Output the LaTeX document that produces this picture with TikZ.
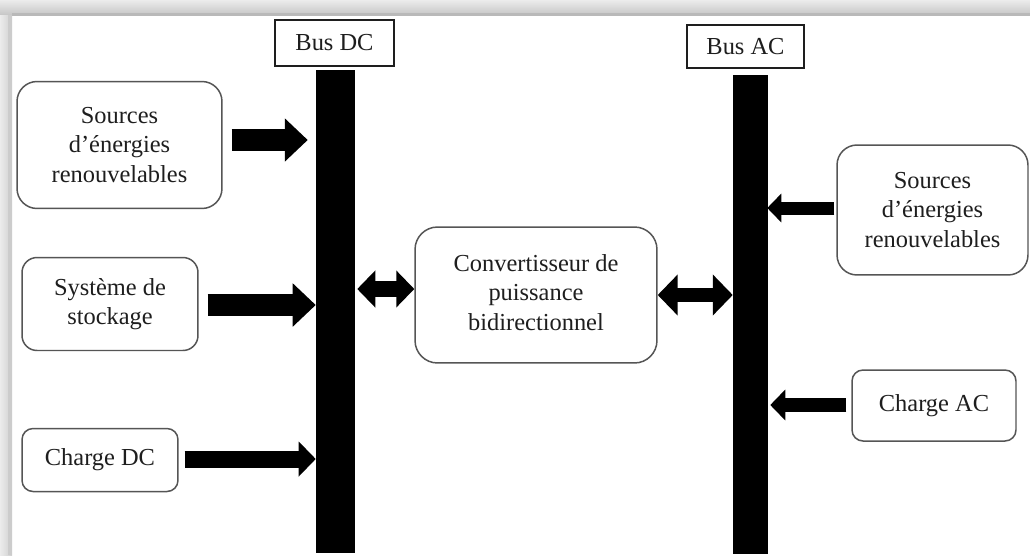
\documentclass[tikz,border=0pt]{standalone}
\usepackage{fontspec}
\setmainfont{Liberation Serif}
\usetikzlibrary{arrows.meta}
\definecolor{ink}{HTML}{1E1E1E}
\definecolor{edge}{HTML}{555555}
\tikzset{
  softbox/.style={draw=edge, line width=0.85pt, fill=white, text=ink,
    align=center, inner sep=0pt, font=\fontsize{13.9}{16.6}\selectfont},
  buslabel/.style={draw=ink, line width=0.8pt, fill=white, text=ink,
    inner sep=0pt, font=\fontsize{13.9}{16.6}\selectfont},
  busbar/.style={fill=black, draw=black, line width=0.3pt, inner sep=0pt},
  % thick block arrow: shaft width, head width, head length
  blockarrow/.style n args={3}{line width=#1,
    -{Triangle[width=#2,length=#3]}},
  blockboth/.style n args={3}{line width=#1,
    {Triangle[width=#2,length=#3]}-{Triangle[width=#2,length=#3]}}
}
% text block set a little above the centre of its box
\newcommand{\liftedlines}[2]{\raisebox{#1}{\begin{tabular}{@{}c@{}}#2\end{tabular}}}
\begin{document}
\begin{tikzpicture}[x=0.02cm,y=-0.02cm]
\useasboundingbox (0,0) rectangle (1030,555);
\fill[white] (0,0) rectangle (1030,555);

% frame bands along the top and left edges
\shade[top color=gray!15, bottom color=gray!45] (0,0) rectangle (1030,15);
\shade[left color=gray!15, right color=gray!38] (0,15) rectangle (12,555);
\fill[gray!55] (12,13) rectangle (1030,15.5);
\fill[gray!40] (8,15) rectangle (12,555);

% buses
\node[busbar, minimum width=0.76cm, minimum height=9.64cm] (dcbar) at (335,311) {};
\node[busbar, minimum width=0.68cm, minimum height=9.56cm] (acbar) at (750,314) {};
\node[buslabel, minimum width=2.38cm, minimum height=0.92cm] (busdc) at (334.5,43) {Bus DC};
\node[buslabel, minimum width=2.34cm, minimum height=0.86cm] (busac) at (745.5,46.5) {Bus AC};

% blocks on the DC side
\node[softbox, rounded corners=0.4cm, minimum width=4.1cm, minimum height=2.54cm]
  (srcdc) at (119.5,145) {Sources\\d’énergies\\renouvelables};
\node[softbox, rounded corners=0.3cm, minimum width=3.52cm, minimum height=1.86cm]
  (stock) at (110,304) {Système de\\stockage};
\node[softbox, rounded corners=0.22cm, minimum width=3.12cm, minimum height=1.26cm]
  (chdc) at (100,460) {Charge DC};

% converter
\node[softbox, rounded corners=0.45cm, minimum width=4.84cm, minimum height=2.72cm]
  (conv) at (536,295) {\liftedlines{8pt}{Convertisseur de\\puissance\\bidirectionnel}};

% blocks on the AC side
\node[softbox, rounded corners=0.4cm, minimum width=3.82cm, minimum height=2.6cm]
  (srcac) at (932.5,210) {Sources\\d’énergies\\renouvelables};
\node[softbox, rounded corners=0.22cm, minimum width=3.28cm, minimum height=1.42cm]
  (chac) at (934,405.5) {Charge AC};

% flows into the DC bus
\draw[blockarrow={0.44cm}{0.84cm}{0.46cm}, shorten <=0.18cm, shorten >=0.16cm]
  (srcdc.east |- 0,140) -- (dcbar.west |- 0,140);
\draw[blockarrow={0.44cm}{0.84cm}{0.46cm}, shorten <=0.18cm]
  (stock.east |- 0,305) -- (dcbar.west |- 0,305);
\draw[blockarrow={0.34cm}{0.68cm}{0.34cm}, shorten <=0.12cm]
  (chdc.east |- 0,459) -- (dcbar.west |- 0,459);

% converter links
\draw[blockboth={0.32cm}{0.72cm}{0.36cm}, shorten <=0.06cm]
  (dcbar.east |- 0,289) -- (conv.west |- 0,289);
\draw[blockboth={0.28cm}{0.8cm}{0.4cm}]
  (conv.east |- 0,295) -- (acbar.west |- 0,295);

% flows into the AC bus
\draw[blockarrow={0.26cm}{0.56cm}{0.28cm}, shorten <=0.04cm]
  (srcac.west |- 0,208) -- (acbar.east |- 0,208);
\draw[blockarrow={0.28cm}{0.6cm}{0.3cm}, shorten <=0.1cm, shorten >=0.06cm]
  (chac.west |- 0,405) -- (acbar.east |- 0,405);
\end{tikzpicture}
\end{document}
